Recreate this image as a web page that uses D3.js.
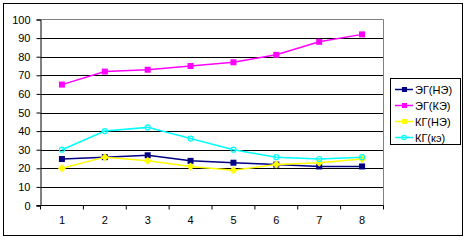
<!DOCTYPE html>
<html><head><meta charset="utf-8">
<script src="https://cdn.jsdelivr.net/npm/d3@7"></script>
<style>body{margin:0;background:#fff}svg{display:block}text{font-family:"Liberation Sans",Arial,sans-serif;font-size:11px;fill:#000}</style>
</head><body>
<svg id="c" width="468" height="240"></svg>
<script>
const categories = ["1","2","3","4","5","6","7","8"];
const yTicks = [0,10,20,30,40,50,60,70,80,90,100];
const seriesNames = ["ЭГ(НЭ)","ЭГ(КЭ)","КГ(НЭ)","КГ(кэ)"];
const egNE = [25,26,27,24,23,22,21,21];
const egKE = [65,72,73,75,77,81,88,92];
const kgNE = [20,26,24,21,19,22,23,25];
const kgKE = [30,40,42,36,30,26,25,26];
const seriesValues = [egNE, egKE, kgNE, kgKE];
const colors = ["#000080","#ff00ff","#ffff00","#00ffff"];
const markers = ["square","square","diamond","circle"];

const svg = d3.select("#c");
svg.append("rect").attr("x",3.5).attr("y",3.5).attr("width",459).attr("height",232).attr("fill","#fff").attr("stroke","#000");

const L=40.5, R=383.5, T=19.5, B=205.5;
const x = d3.scaleBand().domain(categories).range([L,R]);
const y = d3.scaleLinear().domain([0,100]).range([B,T]);

// gridlines
svg.append("g").selectAll("line").data(yTicks.filter(d=>d>0&&d<100)).join("line")
  .attr("x1",L).attr("x2",R).attr("y1",d=>Math.round(y(d))+0.5).attr("y2",d=>Math.round(y(d))+0.5)
  .attr("stroke","#000");
// plot border top/right gray
svg.append("path").attr("d",`M${L},${T}H${R}V${B}`).attr("fill","none").attr("stroke","#808080");

// y axis
const ya = svg.append("g").attr("transform",`translate(${L},0)`)
  .call(d3.axisLeft(y).tickValues(yTicks).tickSize(4).tickPadding(6));
ya.select(".domain").attr("stroke","#000");
ya.selectAll(".tick line").attr("stroke","#000");
ya.selectAll("text").style("font-size","11px");
// x axis
const xa = svg.append("g").attr("transform",`translate(0,${B})`)
  .call(d3.axisBottom(x).tickSize(0).tickPadding(11));
xa.select(".domain").remove();
xa.selectAll("text").style("font-size","11px");
svg.append("line").attr("x1",L-4).attr("x2",R).attr("y1",B).attr("y2",B).attr("stroke","#000");
svg.append("g").selectAll("line").data(categories.concat(["end"])).join("line")
  .attr("x1",(d,i)=>L+i*x.bandwidth()).attr("x2",(d,i)=>L+i*x.bandwidth())
  .attr("y1",B).attr("y2",B+4).attr("stroke","#000");

function drawMarker(g, type, color, cx, cy){
  if(type==="square") g.append("rect").attr("x",cx-3).attr("y",cy-3).attr("width",6).attr("height",6).attr("fill",color);
  else if(type==="diamond") g.append("path").attr("d",`M${cx},${cy-4}L${cx+4},${cy}L${cx},${cy+4}L${cx-4},${cy}Z`).attr("fill",color);
  else g.append("circle").attr("cx",cx).attr("cy",cy).attr("r",2.5).attr("fill","none").attr("stroke",color).attr("stroke-width",1.2);
}

const line = d3.line().x((d,i)=>x(categories[i])+x.bandwidth()/2).y(d=>y(d));
seriesValues.forEach((vals,si)=>{
  const g = svg.append("g");
  g.append("path").attr("d",line(vals)).attr("fill","none").attr("stroke",colors[si]).attr("stroke-width",1.5);
  vals.forEach((v,i)=>drawMarker(g, markers[si], colors[si], x(categories[i])+x.bandwidth()/2, y(v)));
});

// legend
const lg = svg.append("g");
lg.append("rect").attr("x",390.5).attr("y",78.5).attr("width",70).attr("height",66).attr("fill","#fff").attr("stroke","#000");
seriesNames.forEach((n,i)=>{
  const cy = 89.5 + i*16;
  lg.append("line").attr("x1",395).attr("x2",413).attr("y1",cy).attr("y2",cy).attr("stroke",colors[i]).attr("stroke-width",1.5);
  const mt = markers[i]==="diamond" ? "square" : markers[i];
  if(mt==="square") lg.append("rect").attr("x",402).attr("y",cy-2.5).attr("width",5).attr("height",5).attr("fill",colors[i]);
  else lg.append("circle").attr("cx",404).attr("cy",cy).attr("r",2.2).attr("fill","none").attr("stroke",colors[i]).attr("stroke-width",1.2);
  lg.append("text").attr("x",415).attr("y",cy+4).text(n);
});
</script>
</body></html>
